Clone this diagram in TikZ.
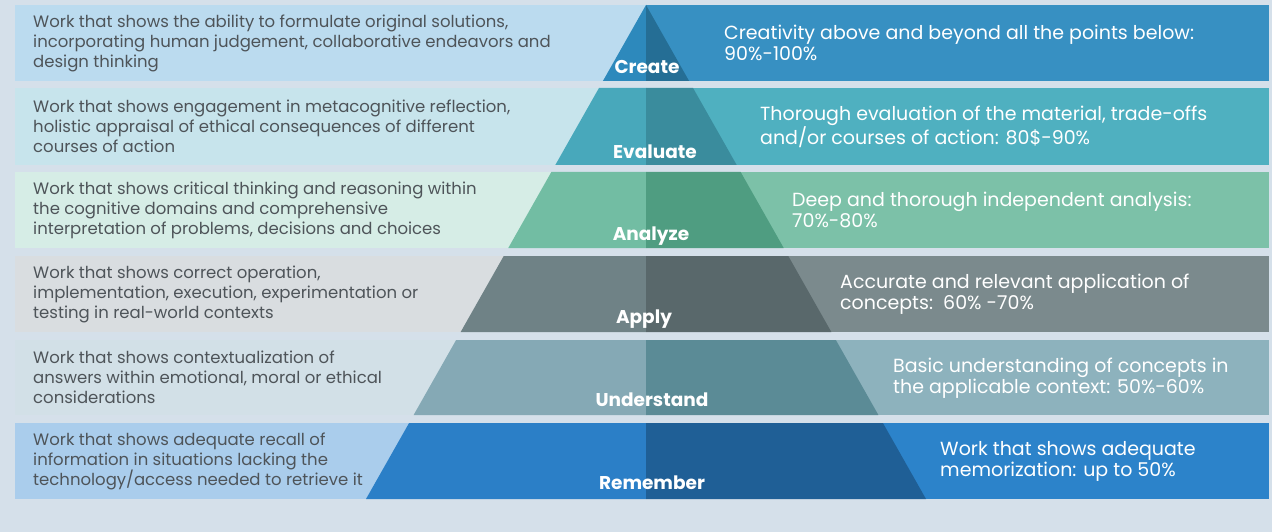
\documentclass[tikz,border=0pt]{standalone}
\usepackage{fontspec}
\setmainfont{Poppins}
% page ground
\definecolor{bg}{HTML}{D5E0EA}
% row colours: light band, pyramid left half, pyramid right half, right band
\definecolor{cA}{HTML}{BBDBEF}\definecolor{mA}{HTML}{2D89BC}\definecolor{dA}{HTML}{256E95}\definecolor{rA}{HTML}{3790C2}
\definecolor{cB}{HTML}{C7E4EC}\definecolor{mB}{HTML}{48A8BB}\definecolor{dB}{HTML}{3A8C9D}\definecolor{rB}{HTML}{4FB0C0}
\definecolor{cC}{HTML}{D6EDE6}\definecolor{mC}{HTML}{72BDA3}\definecolor{dC}{HTML}{4F9D81}\definecolor{rC}{HTML}{7CC1A8}
\definecolor{cD}{HTML}{D9DDE0}\definecolor{mD}{HTML}{6F8286}\definecolor{dD}{HTML}{59686B}\definecolor{rD}{HTML}{7B8A8D}
\definecolor{cE}{HTML}{D2E0E7}\definecolor{mE}{HTML}{85A9B5}\definecolor{dE}{HTML}{5B8B96}\definecolor{rE}{HTML}{8DB2BD}
\definecolor{cF}{HTML}{AACDEC}\definecolor{mF}{HTML}{2B7FC7}\definecolor{dF}{HTML}{1F5F96}\definecolor{rF}{HTML}{2C83CA}
\definecolor{leftink}{HTML}{4E5459}
\begin{document}
\begin{tikzpicture}[x=1pt,y=-1pt,
  desc/.style={anchor=west,align=left,text=leftink,inner sep=0pt,
    font=\fontsize{16.5}{20}\selectfont},
  score/.style={anchor=west,align=left,text=white,inner sep=0pt,
    font=\fontsize{19}{21}\selectfont},
  level/.style={anchor=base,text=white,inner sep=0pt,
    font=\fontsize{18.5}{20}\selectfont\bfseries}]
\fill[bg] (0,0) rectangle (1272,532);
\useasboundingbox (0,0) rectangle (1272,532);
% pyramid: apex (646,5), base y=499, half base width 280 (slope 280/494)
\def\ax{646}
\foreach \t/\b/\lc/\mc/\dc/\rc in {
    5/81/cA/mA/dA/rA, 88/165/cB/mB/dB/rB, 172/248/cC/mC/dC/rC,
    256/332/cD/mD/dD/rD, 340/415/cE/mE/dE/rE, 423/499/cF/mF/dF/rF}{
  \pgfmathsetmacro\wt{0.566802*(\t-5)}
  \pgfmathsetmacro\wb{0.566802*(\b-5)}
  \fill[\lc] (15,\t) rectangle (\ax,\b);
  \fill[\rc] (\ax,\t) rectangle (1269,\b);
  \fill[\mc] (\ax-\wt,\t) -- (\ax,\t) -- (\ax,\b) -- (\ax-\wb,\b) -- cycle;
  \fill[\dc] (\ax,\t) -- (\ax+\wt,\t) -- (\ax+\wb,\b) -- (\ax,\b) -- cycle;
}
% level names
\node[level] (p1) at (647,74) {Create};
\node[level] (p2) at (655,158) {Evaluate};
\node[level] (p3) at (651,240) {Analyze};
\node[level] (p4) at (644,323) {Apply};
\node[level] (p5) at (652,406) {Understand};
\node[level] (p6) at (652,489) {Remember};
% descriptions
\node[desc] (l1) at (33,43) {Work that shows the ability to formulate original solutions,\\incorporating human judgement, collaborative endeavors and\\design thinking};
\node[desc] (l2) at (33,126) {Work that shows engagement in metacognitive reflection,\\holistic appraisal of ethical consequences of different\\courses of action};
\node[desc] (l3) at (33,210) {Work that shows critical thinking and reasoning within\\the cognitive domains and comprehensive\\interpretation of problems, decisions and choices};
\node[desc] (l4) at (33,294) {Work that shows correct operation,\\implementation, execution, experimentation or\\testing in real-world contexts};
\node[desc] (l5) at (33,377) {Work that shows contextualization of\\answers within emotional, moral or ethical\\considerations};
\node[desc] (l6) at (33,461) {Work that shows adequate recall of\\information in situations lacking the\\technology/access needed to retrieve it};
% grading
\node[score] (r1) at (724,43) {Creativity above and beyond all the points below:\\90\%-100\%};
\node[score] (r2) at (760,127) {Thorough evaluation of the material, trade-offs\\and/or courses of action: 80\$-90\%};
\node[score] (r3) at (792,210) {Deep and thorough independent analysis:\\70\%-80\%};
\node[score] (r4) at (840,294) {Accurate and relevant application of\\concepts:\ \ 60\% -70\%};
\node[score] (r5) at (893,378) {Basic understanding of concepts in\\the applicable context: 50\%-60\%};
\node[score] (r6) at (940,461) {Work that shows adequate\\memorization: up to 50\%};
\end{tikzpicture}
\end{document}
